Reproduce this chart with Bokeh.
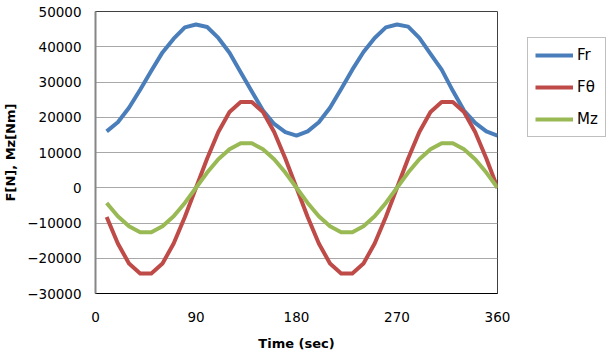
from bokeh.plotting import figure
from bokeh.layouts import row
from bokeh.models import Range1d, FixedTicker, Legend, LegendItem
from bokeh.embed import file_html
from bokeh.resources import INLINE

time_deg = [10, 20, 30, 40, 50, 60, 70, 80, 90, 100, 110, 120, 130, 140, 150, 160, 170, 180,
            190, 200, 210, 220, 230, 240, 250, 260, 270, 280, 290, 300, 310, 320, 330, 340, 350, 360]
fr = [16000, 18600, 22700, 27800, 33200, 38400, 42300, 45500, 46300, 45600, 42500, 38300, 32800,
      27300, 21900, 18100, 15800, 14800,
      16000, 18600, 22700, 28000, 33500, 38500, 42500, 45500, 46300, 45700, 42500, 38000, 33500,
      27500, 21900, 18400, 16000, 14800]
ftheta = [-8300, -15800, -21500, -24300, -24300, -21500, -15800, -8300, 0, 8300, 15800, 21500,
          24300, 24300, 21500, 15800, 8300, 0,
          -8300, -15800, -21500, -24300, -24300, -21500, -15800, -8300, 0, 8300, 15800, 21500,
          24300, 24300, 21500, 15800, 8300, 0]
mz = [-4300, -8100, -10900, -12600, -12600, -10900, -8100, -4300, 0, 4300, 8100, 10900,
      12600, 12600, 10900, 8100, 4300, 0,
      -4300, -8100, -10900, -12600, -12600, -10900, -8100, -4300, 0, 4300, 8100, 10900,
      12600, 12600, 10900, 8100, 4300, 0]
x_ticks = [0, 90, 180, 270, 360]
y_ticks = [-30000, -20000, -10000, 0, 10000, 20000, 30000, 40000, 50000]
series_names = ["Fr", "F\u03b8", "Mz"]
series_colors = ["#4A7EBB", "#BE4B48", "#98B954"]

FONT = "DejaVu Sans"

p = figure(width=510, height=361, output_backend="svg", toolbar_location=None,
           x_range=Range1d(0, 360), y_range=Range1d(-30000, 50000),
           min_border_left=94, min_border_right=13, min_border_top=11, min_border_bottom=68)

p.background_fill_color = "white"
p.border_fill_color = "white"
p.outline_line_color = "#404040"
p.outline_line_width = 1

p.xgrid.grid_line_color = None
p.ygrid.grid_line_color = "#a8a8a8"
p.ygrid.grid_line_width = 1
p.ygrid.ticker = FixedTicker(ticks=y_ticks)

p.xaxis.ticker = FixedTicker(ticks=x_ticks)
p.yaxis.ticker = FixedTicker(ticks=y_ticks)

for ax in (p.xaxis, p.yaxis):
    ax.major_tick_line_color = None
    ax.minor_tick_line_color = None
    ax.major_tick_out = 0
    ax.major_tick_in = 0
    ax.major_label_text_font = FONT
    ax.major_label_text_font_size = "13.5px"
    ax.major_label_text_color = "#000000"
    ax.axis_label_text_font = FONT
    ax.axis_label_text_font_size = "13px"
    ax.axis_label_text_font_style = "bold"
    ax.axis_label_text_color = "#000000"

p.yaxis.axis_line_color = "#868686"
p.yaxis.axis_line_width = 2
p.xaxis.axis_line_color = "#000000"
p.xaxis.axis_line_width = 1
p.yaxis.major_label_standoff = 14
p.xaxis.major_label_standoff = 18
p.xaxis.axis_label = "Time (sec)"
p.yaxis.axis_label = "F[N], Mz[Nm]"
p.xaxis.axis_label_standoff = 11
p.yaxis.axis_label_standoff = 6

for name, vals, col in zip(series_names, [fr, ftheta, mz], series_colors):
    p.line(time_deg, vals, line_color=col, line_width=4, line_join="round")

# legend panel (separate figure to the right of the plot)
pl = figure(width=100, height=361, output_backend="svg", toolbar_location=None,
            x_range=Range1d(0, 1), y_range=Range1d(0, 1),
            x_axis_location=None, y_axis_location=None,
            min_border_left=0, min_border_right=0, min_border_top=11, min_border_bottom=68)
pl.grid.grid_line_color = None
pl.outline_line_color = None
pl.background_fill_color = "white"
pl.border_fill_color = "white"

items = []
for name, vals, col in zip(series_names, [fr, ftheta, mz], series_colors):
    r = pl.line(time_deg, vals, line_color=col, line_width=4)
    items.append(LegendItem(label=name, renderers=[r]))

legend = Legend(items=items, location=(17, 156))
legend.label_text_font = FONT
legend.label_text_font_size = "15px"
legend.label_text_color = "#000000"
legend.glyph_width = 38
legend.glyph_height = 20
legend.spacing = 12
legend.padding = 7
legend.margin = 0
legend.label_standoff = 4
legend.border_line_color = "#808080"
legend.border_line_width = 1
legend.background_fill_alpha = 1
pl.add_layout(legend, "center")

layout = row(p, pl, spacing=0)
open("out.html", "w").write(file_html(layout, INLINE))
